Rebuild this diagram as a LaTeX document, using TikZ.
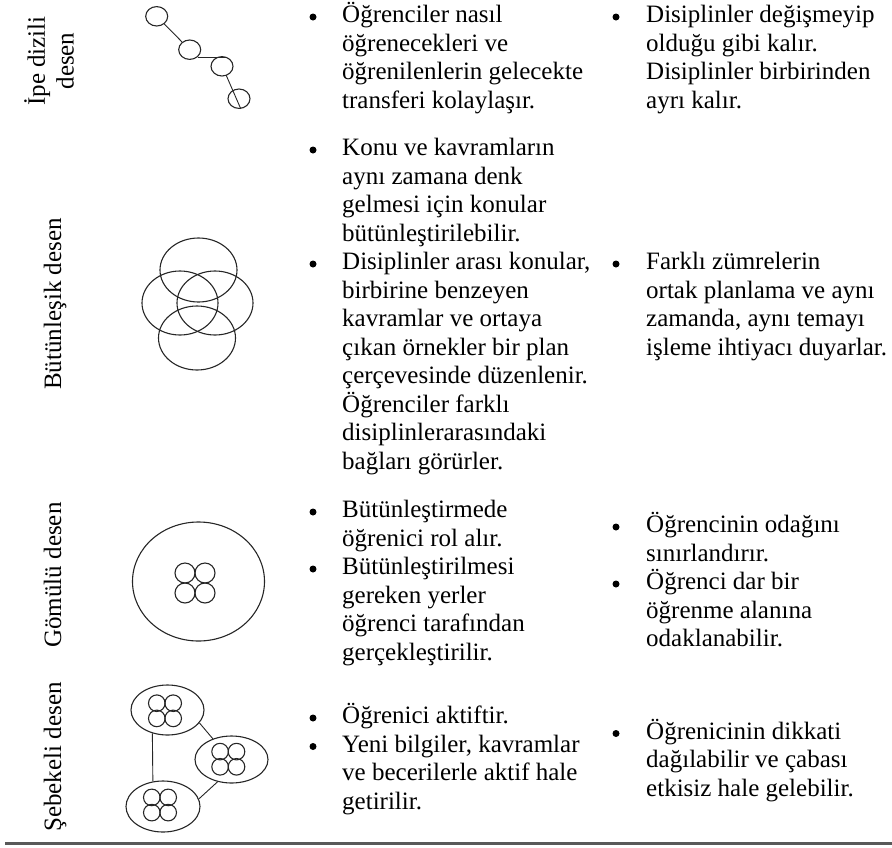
\documentclass[tikz,border=0pt]{standalone}
\usepackage{fontspec}
\setmainfont{Liberation Serif}
\usetikzlibrary{shapes.geometric}
\newcommand\myitem[5]{%
  \node[bul] (#1b) at (#2,#4) {};
  \node[itm] (#1) at (#3,#4+5.6) {\parbox[t]{280pt}{#5}};}
\begin{document}
\begin{tikzpicture}[x=1pt,y=-1pt]
\tikzset{
 fnt/.style={font=\fontsize{25}{28.5}\selectfont},
 lab/.style={fnt, rotate=90, anchor=base, inner sep=0pt},
 itm/.style={fnt, anchor=base west, inner sep=0pt},
 bul/.style={circle, fill=black, inner sep=0pt, minimum size=7pt},
 shp/.style={draw=black!85, line width=1.1pt},
 elp/.style 2 args={ellipse, shp, inner sep=0pt, minimum width=#1, minimum height=#2},
 con/.style={draw=black!85, line width=0.9pt},
 rulestyle/.style={draw=black!65, line width=2.5pt},
}
\useasboundingbox (0,0) rectangle (892,847);

% labels
\node[lab] (l1a) at (45,61) {İpe dizili};
\node[lab] (l1b) at (73.5,61) {desen};
\node[lab] (l2) at (61,304) {Bütünleşik desen};
\node[lab] (l3) at (61,575) {Gömülü desen};
\node[lab] (l4) at (61,757) {Şebekeli desen};

% icon 1
\node[elp={22pt}{19.4pt}] (c1) at (156.7,16.3) {};
\node[elp={22pt}{19.4pt}] (c2) at (189.7,49.7) {};
\node[elp={22pt}{19.4pt}] (c3) at (222,66.3) {};
\node[elp={22pt}{19.4pt}] (c4) at (239,98.7) {};
\draw[con] (c1) -- (c2);
\draw[con] (c2.-43) -- (c2.-43 -| c3.70);
\draw[con] (c3.-65) -- (c4.-80);

% icon 2
\node[elp={77pt}{64pt}] (b1) at (198.5,270) {};
\node[elp={76pt}{64pt}] (b2) at (180,303) {};
\node[elp={76pt}{64pt}] (b3) at (215,303) {};
\node[elp={77pt}{64pt}] (b4) at (197,338) {};

% icon 3
\node[elp={132pt}{119pt}] (g0) at (198.5,581.5) {};
\foreach \i/\cx/\cy in {1/185/573, 2/205/573, 3/185/593, 4/205/593}
  \node[circle, shp, inner sep=0pt, minimum size=20pt] (g\i) at (\cx,\cy) {};

% icon 4
\node[elp={73pt}{50pt}] (e1) at (167.5,710) {};
\node[elp={73pt}{47pt}] (e2) at (231.5,759.5) {};
\node[elp={74pt}{51pt}] (e3) at (163,806.5) {};
\foreach \n/\cx/\cy in {e1/165/710.8, e2/228.3/759.2, e3/160/805} {
  \foreach \i/\dx/\dy in {a/-8.2/-7.6, b/8.2/-7.6, c/-8.2/7.6, d/8.2/7.6}
    \node[circle, shp, inner sep=0pt, minimum size=16.6pt] (\n\i) at ({\cx+(\dx)},{\cy+(\dy)}) {};
}
\draw[con] (e1.237.7) -- (e3.112.2);
\draw[con] (e1.-22.8) -- (e2.132);
\draw[con] (e2.238.3) -- (e3.12.9);

% bottom rule
\coordinate (r0) at (5,843.5);
\coordinate (r1) at (892,843.5);
\draw[rulestyle] (r0) -- (r1);

% items
\myitem{t1}{313}{342}{17}{Öğrenciler nasıl\\öğrenecekleri ve\\öğrenilenlerin gelecekte\\transferi kolaylaşır.}
\myitem{u1}{616}{646}{17}{Disiplinler değişmeyip\\olduğu gibi kalır.\\Disiplinler birbirinden\\ayrı kalır.}
\myitem{t2}{313}{342}{150}{Konu ve kavramların\\aynı zamana denk\\gelmesi için konular\\bütünleştirilebilir.}
\myitem{t3}{313}{342}{264}{Disiplinler arası konular,\\birbirine benzeyen\\kavramlar ve ortaya\\çıkan örnekler bir plan\\çerçevesinde düzenlenir.\\Öğrenciler farklı\\disiplinlerarasındaki\\bağları görürler.}
\myitem{u2}{616}{646}{264}{Farklı zümrelerin\\ortak planlama ve aynı\\zamanda, aynı temayı\\işleme ihtiyacı duyarlar.}
\myitem{t4}{313}{342}{512}{Bütünleştirmede\\öğrenici rol alır.}
\myitem{t5}{313}{342}{569}{Bütünleştirilmesi\\gereken yerler\\öğrenci tarafından\\gerçekleştirilir.}
\myitem{u3}{616}{646}{527}{Öğrencinin odağını\\sınırlandırır.}
\myitem{u4}{616}{646}{584}{Öğrenci dar bir\\öğrenme alanına\\odaklanabilir.}
\myitem{t6}{313}{342}{718}{Öğrenici aktiftir.}
\myitem{t7}{313}{342}{746.5}{Yeni bilgiler, kavramlar\\ve becerilerle aktif hale\\getirilir.}
\myitem{u5}{616}{646}{733.5}{Öğrenicinin dikkati\\dağılabilir ve çabası\\etkisiz hale gelebilir.}
\end{tikzpicture}
\end{document}
